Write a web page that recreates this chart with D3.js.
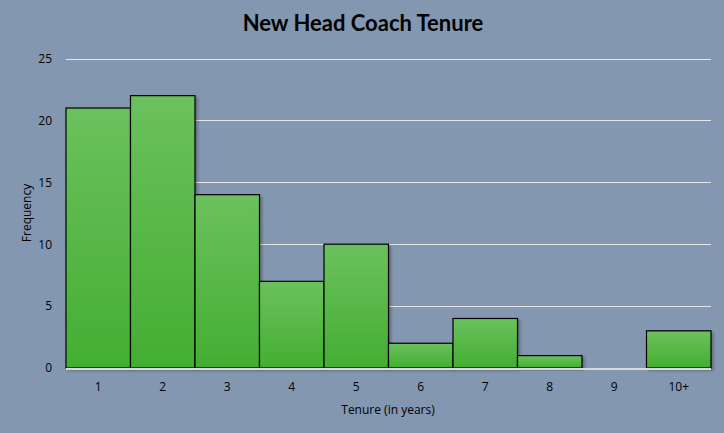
<!DOCTYPE html>
<html><head><meta charset="utf-8">
<script src="https://cdn.jsdelivr.net/npm/d3@7"></script>
<style>
html,body{margin:0;padding:0;background:#8497b0;}
svg{display:block;}
text{font-family:"Open Sans","DejaVu Sans",sans-serif;fill:#000;}
</style></head>
<body>
<script>
const categories = ["1","2","3","4","5","6","7","8","9","10+"];
const frequency = [21,22,14,7,10,2,4,1,0,3];
const yTicks = [0,5,10,15,20,25];
const title = "New Head Coach Tenure";
const xTitle = "Tenure (in years)";
const yTitle = "Frequency";

const W = 724, H = 433;
const m = {left:66, right:13, top:58.5, bottom:65};
const svg = d3.select("body").append("svg").attr("width",W).attr("height",H);
svg.append("rect").attr("width",W).attr("height",H).attr("fill","#8497b0");

const defs = svg.append("defs");
const grad = defs.append("linearGradient").attr("id","g").attr("x1",0).attr("y1",0).attr("x2",0).attr("y2",1);
grad.append("stop").attr("offset","0%").attr("stop-color","#6cc15d");
grad.append("stop").attr("offset","100%").attr("stop-color","#43ae32");
const f = defs.append("filter").attr("id","sh").attr("x","-10%").attr("y","-10%").attr("width","130%").attr("height","130%");
f.append("feDropShadow").attr("dx",2).attr("dy",2).attr("stdDeviation",1.5).attr("flood-color","#000").attr("flood-opacity",0.3);

const x = d3.scaleBand().domain(categories).range([m.left, W-m.right]).padding(0);
const y = d3.scaleLinear().domain([0,25]).range([H-m.bottom, m.top]);

const data = categories.map((c,i)=>({cat:c, v:frequency[i]}));

// gridlines
svg.append("g").selectAll("line").data(yTicks.filter(d=>d>0)).join("line")
  .attr("x1",m.left).attr("x2",W-m.right)
  .attr("y1",d=>Math.round(y(d))+0.5).attr("y2",d=>Math.round(y(d))+0.5)
  .attr("stroke","#e6e6e6").attr("stroke-width",1);

// bars
svg.append("g").selectAll("rect").data(data.filter(d=>d.v>0)).join("rect")
  .attr("x",d=>x(d.cat))
  .attr("y",d=>y(d.v))
  .attr("width",x.bandwidth())
  .attr("height",d=>y(0)-y(d.v))
  .attr("fill","url(#g)")
  .attr("stroke","#000").attr("stroke-width",1.2)
  .attr("filter","url(#sh)");

// baseline
svg.append("line").attr("x1",m.left).attr("x2",W-m.right)
  .attr("y1",y(0)+1).attr("y2",y(0)+1).attr("stroke","#d9d9d9").attr("stroke-width",2);

// y axis labels
const yAxis = d3.axisLeft(y).tickValues(yTicks).tickSize(0).tickPadding(14);
const gy = svg.append("g").attr("transform",`translate(${m.left},0)`).call(yAxis);
gy.select(".domain").remove();
gy.selectAll("text").attr("font-size",12).attr("fill","#000").style("font-family","'Open Sans',sans-serif");

// x axis labels
const xAxis = d3.axisBottom(x).tickSize(0).tickPadding(13);
const gx = svg.append("g").attr("transform",`translate(0,${y(0)+1})`).call(xAxis);
gx.select(".domain").remove();
gx.selectAll("text").attr("font-size",12).attr("fill","#000").style("font-family","'Open Sans',sans-serif");

// titles
svg.append("text").attr("x",363).attr("y",31).attr("text-anchor","middle")
  .attr("font-size",22).attr("font-weight","bold").style("font-family","Lato,'Open Sans',sans-serif").text(title);
svg.append("text").attr("x",388).attr("y",414).attr("text-anchor","middle")
  .attr("font-size",12).text(xTitle);
svg.append("text").attr("transform","translate(31,213) rotate(-90)").attr("text-anchor","middle")
  .attr("font-size",12).text(yTitle);
</script>
</body></html>
